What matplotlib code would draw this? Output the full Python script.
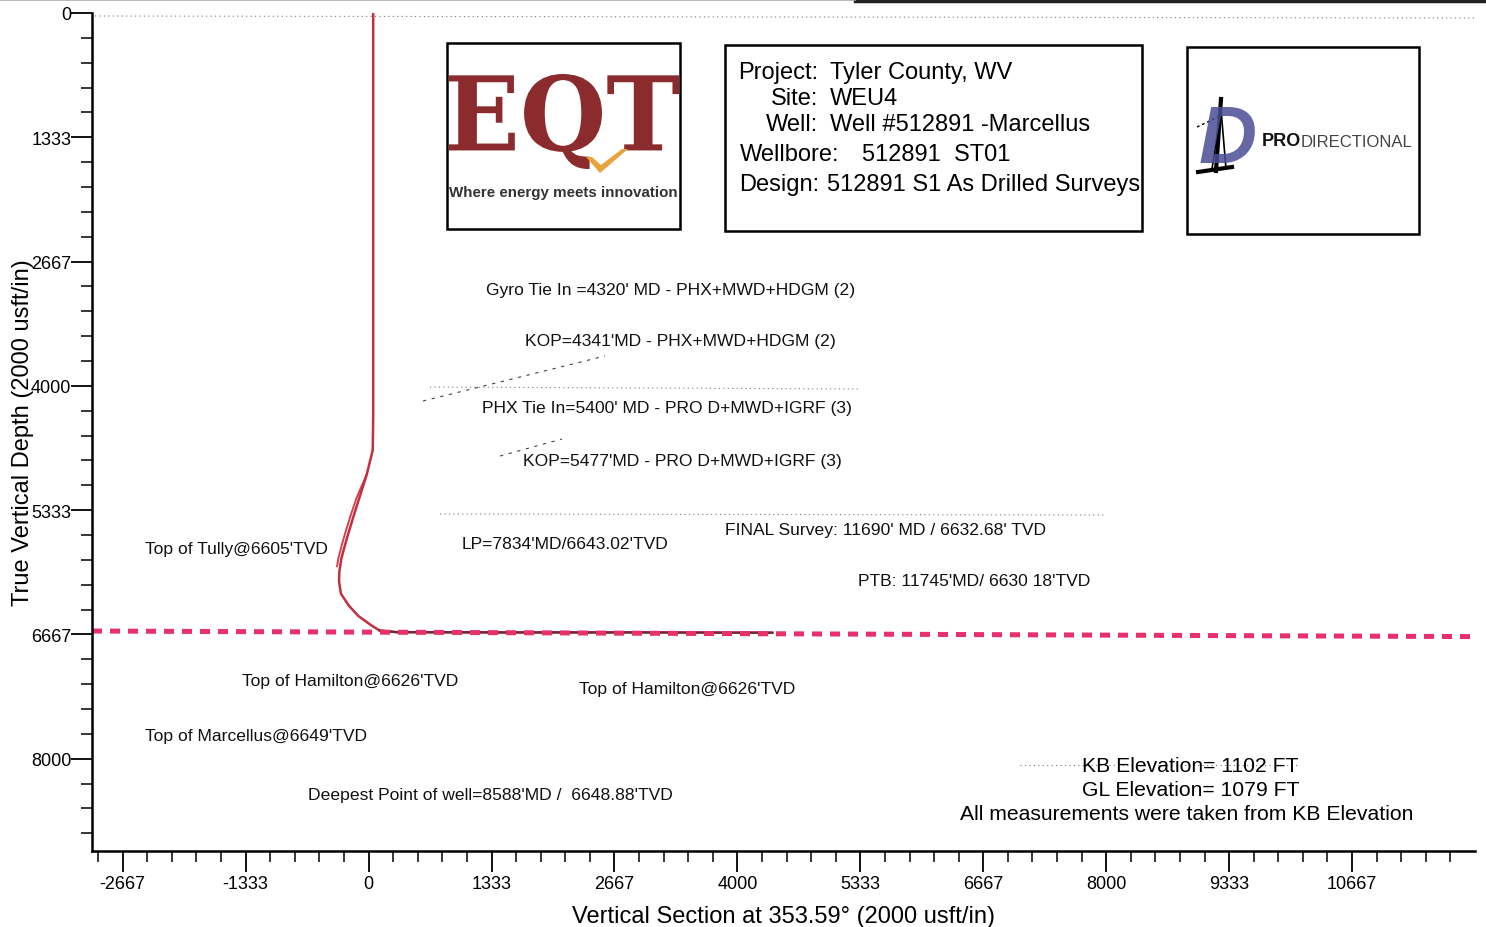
import numpy as np
import matplotlib
matplotlib.use("Agg")
import matplotlib.pyplot as plt
from matplotlib.patches import Rectangle, PathPatch, Polygon
from matplotlib.textpath import TextPath
from matplotlib.font_manager import FontProperties
from matplotlib.transforms import Affine2D
from matplotlib.lines import Line2D

plt.rcParams['font.family'] = ['Liberation Sans', 'DejaVu Sans']

# ---- data -------------------------------------------------------------
# well path, sidetrack ST01 (vertical section / TVD, usft)
st_vs = [50, 50, 45, -20, -100, -170, -240, -295, -318, -320, -300, -215, -110, 32, 120, 300, 1500, 3000, 4380]
st_tvd = [0, 4320, 4690, 4950, 5200, 5420, 5650, 5850, 6000, 6100, 6230, 6357, 6470, 6571, 6625, 6642, 6645, 6645, 6648]
# original hole, short piece left of the sidetrack
oh_vs = [-20, -130, -205, -275, -328, -342]
oh_tvd = [4950, 5200, 5420, 5650, 5850, 5935]
# target line (Marcellus)
tgt_vs = [-3000, 12000]
tgt_tvd = [6630, 6690]

y_major = np.arange(0, 8001, 4000 / 3)
x_major = np.arange(-8000 / 3, 10668, 4000 / 3)
tick_step = 4000 / 15

labels = [
    ("Gyro Tie In =4320' MD - PHX+MWD+HDGM (2)", 486, 290),
    ("KOP=4341'MD - PHX+MWD+HDGM (2)", 525, 342),
    ("PHX Tie In=5400' MD - PRO D+MWD+IGRF (3)", 482, 408),
    ("KOP=5477'MD - PRO D+MWD+IGRF (3)", 523, 462),
    ("FINAL Survey: 11690' MD / 6632.68' TVD", 725, 531),
    ("PTB: 11745'MD/ 6630 18'TVD", 858, 581),
    ("Top of Tully@6605'TVD", 145, 550),
    ("LP=7834'MD/6643.02'TVD", 462, 545),
    ("Top of Hamilton@6626'TVD", 242, 682),
    ("Top of Hamilton@6626'TVD", 579, 690),
    ("Top of Marcellus@6649'TVD", 145, 737),
    ("Deepest Point of well=8588'MD /  6648.88'TVD", 308, 796),
]

W, H = 1486, 928


def fx(x):
    return x / W


def fy(y):
    return 1 - y / H


fig = plt.figure(figsize=(14.86, 9.28), dpi=100)
ax = fig.add_axes([fx(92), fy(852), fx(1475) - fx(92), fy(14) - fy(852)])

ax.plot(oh_vs, oh_tvd, color='#d8404f', lw=1.4)
ax.plot(st_vs, st_tvd, color='#c2303f', lw=1.8, solid_capstyle='round')
ax.plot(st_vs[-5:], st_tvd[-5:], color='#6b2a3a', lw=1.6)
ax.plot(tgt_vs, tgt_tvd, color='#e8306a', lw=3.6, dashes=(2.0, 1.6))

ax.set_xlim(-3000, 12000)
ax.set_ylim(8990, 0)
ax.spines['top'].set_visible(False)
ax.spines['right'].set_visible(False)
ax.spines['left'].set_linewidth(1.8)
ax.spines['bottom'].set_linewidth(1.8)

ax.set_yticks(y_major)
ax.set_yticklabels([str(int(round(v))) for v in y_major])
ax.set_yticks(np.arange(0, 8990, tick_step), minor=True)
ax.set_xticks(x_major)
ax.set_xticklabels([str(int(round(v))) for v in x_major])
ax.set_xticks(np.arange(-11 * tick_step, 12000, tick_step), minor=True)
ax.tick_params(which='major', length=15, width=1.3, labelsize=13, pad=2)
ax.tick_params(axis='y', which='major', pad=0)
ax.tick_params(which='minor', length=8, width=1.1)

ax.set_ylabel('True Vertical Depth (2000 usft/in)', fontsize=17, labelpad=-2)
ax.set_xlabel('Vertical Section at 353.59° (2000 usft/in)', fontsize=17, labelpad=10)

# faint scan lines and leaders
faint = dict(color='#777777', lw=0.8, dashes=(1, 3))
for (x0, y0, x1, y1) in [(95, 17, 1475, 19), (430, 388, 860, 390), (440, 515, 1105, 516),
                         (1020, 766, 1300, 766)]:
    fig.add_artist(Line2D([fx(x0), fx(x1)], [fy(y0), fy(y1)], **faint))
lead = dict(color='#444444', lw=0.8, dashes=(3, 5))
for (x0, y0, x1, y1) in [(423, 402, 605, 357), (500, 457, 562, 440)]:
    fig.add_artist(Line2D([fx(x0), fx(x1)], [fy(y0), fy(y1)], **lead))
fig.add_artist(Line2D([fx(855), 1], [fy(2), fy(2)], color='#222222', lw=2.5))
fig.add_artist(Line2D([0, fx(855)], [fy(1), fy(1)], color='#aaaaaa', lw=1.2))

for txt, x, y in labels:
    fig.text(fx(x), fy(y), txt, fontsize=12.6, ha='left', va='center', color='#111111')

fig.text(fx(1082), fy(766), 'KB Elevation= 1102 FT', fontsize=15.2, va='center')
fig.text(fx(1082), fy(790), 'GL Elevation= 1079 FT', fontsize=15.2, va='center')
fig.text(fx(960), fy(814), 'All measurements were taken from KB Elevation', fontsize=15.2, va='center')

# ---- header boxes -----------------------------------------------------
for (x0, y0, x1, y1) in [(447, 44, 680, 230), (725, 46, 1142, 232), (1187, 48, 1419, 235)]:
    fig.add_artist(Rectangle((fx(x0), fy(y1)), fx(x1) - fx(x0), fy(y0) - fy(y1),
                             fill=False, ec='black', lw=1.8, transform=fig.transFigure))

# EQT logo
tp = TextPath((0, 0), 'EQT', size=1, prop=FontProperties(family='DejaVu Serif', weight='bold'))
ext = tp.get_extents()
bx0, by0, bx1, by1 = 449, 75, 679, 170
sx = (fx(bx1) - fx(bx0)) / ext.width
sy = (fy(by0) - fy(by1)) / ext.height
tr = Affine2D().translate(-ext.x0, -ext.y0).scale(sx, sy).translate(fx(bx0), fy(by1)) + fig.transFigure
fig.add_artist(PathPatch(tp, fc='#8c2b2e', ec='none', transform=tr))
fig.add_artist(Polygon([[fx(586), fy(158)], [fx(600), fy(174)], [fx(628), fy(150)],
                        [fx(622), fy(150)], [fx(601), fy(166)], [fx(592), fy(158)]],
                       closed=True, fc='#e8a33a', ec='none', transform=fig.transFigure))
fig.text(fx(563), fy(193), 'Where energy meets innovation', fontsize=10.9, fontweight='bold',
         ha='center', va='center', color='#333333')

# project info
fs = 17
fig.text(fx(818), fy(73), 'Project:', fontsize=fs, ha='right', va='center')
fig.text(fx(830), fy(73), 'Tyler County, WV', fontsize=fs, va='center')
fig.text(fx(818), fy(99), 'Site:', fontsize=fs, ha='right', va='center')
fig.text(fx(830), fy(99), 'WEU4', fontsize=fs, va='center')
fig.text(fx(818), fy(125), 'Well:', fontsize=fs, ha='right', va='center')
fig.text(fx(830), fy(125), 'Well #512891 -Marcellus', fontsize=fs, va='center')
fig.text(fx(740), fy(155), 'Wellbore:', fontsize=fs, va='center')
fig.text(fx(862), fy(155), '512891  ST01', fontsize=fs, va='center')
fig.text(fx(739), fy(185), 'Design:', fontsize=fs, va='center')
fig.text(fx(827), fy(185), '512891 S1 As Drilled Surveys', fontsize=fs, va='center')

# ProDirectional logo
fig.text(fx(1228), fy(142), 'D', fontsize=58, fontstyle='italic', fontweight='bold',
         ha='center', va='center', color='#4a4e96', alpha=0.85)
fig.add_artist(Line2D([fx(1221), fx(1216)], [fy(100), fy(172)], color='black', lw=3))
fig.add_artist(Line2D([fx(1212), fx(1221), fx(1226)], [fy(170), fy(110), fy(170)], color='black', lw=1.2))
fig.add_artist(Line2D([fx(1198), fx(1232)], [fy(173), fy(168)], color='black', lw=3))
fig.add_artist(Line2D([fx(1197), fx(1218)], [fy(128), fy(118)], color='black', lw=1, dashes=(2, 2)))
fig.text(fx(1262), fy(142), 'PRO', fontsize=13, fontweight='bold', va='center', color='#111111')
fig.text(fx(1301), fy(143), 'DIRECTIONAL', fontsize=12, va='center', color='#444444')

fig.savefig('out.png', dpi=100)
